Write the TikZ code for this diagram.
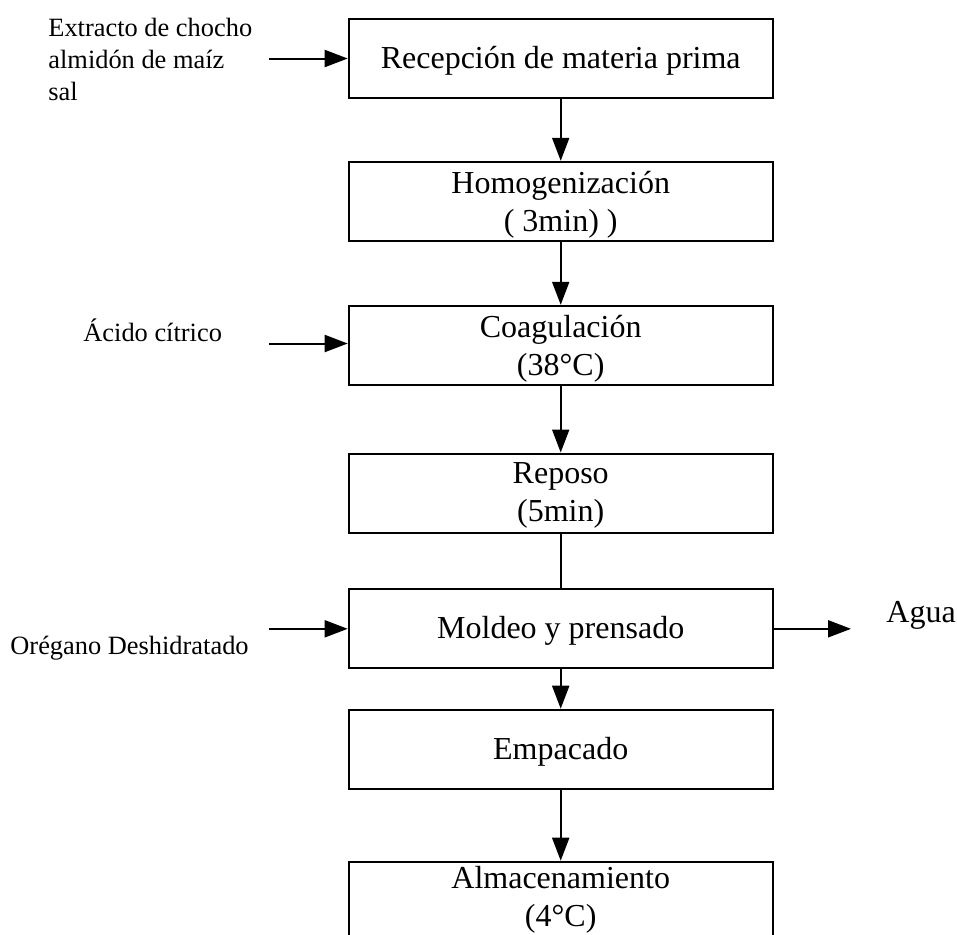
\documentclass[tikz,border=0pt]{standalone}
\usepackage{fontspec}
\setmainfont{Liberation Serif}
\usetikzlibrary{arrows.meta}
\tikzset{
  stepbox/.style={draw, line width=1pt, rectangle, minimum width=212pt, minimum height=39.5pt,
    inner sep=0pt, align=center, font=\fontsize{16pt}{19pt}\selectfont},
  oneline/.style={text height=12pt, text depth=2pt},
  twoline/.style={text height=#1, text depth=0pt},
  side/.style={inner sep=0pt, font=\fontsize{13.2pt}{16pt}\selectfont},
  big/.style={inner sep=0pt, font=\fontsize{16pt}{19pt}\selectfont},
  flow/.style={line width=1pt, -{Triangle[length=11.5pt, width=8.5pt]}},
  plain/.style={line width=1pt}
}
\begin{document}
\begin{tikzpicture}[x=0.5pt, y=-0.5pt]
\useasboundingbox (0,0) rectangle (957,934);
\clip (0,0) rectangle (957,934);
\node[stepbox, oneline] (b1) at (560.7,58.5) {Recepción de materia prima};
\node[stepbox, twoline=29.7pt] (b2) at (560.7,201.3) {Homogenización\\( 3min) )};
\node[stepbox, twoline=29.7pt] (b3) at (560.7,345.3) {Coagulación\\(38°C)};
\node[stepbox, twoline=28.9pt] (b4) at (560.7,493) {Reposo\\(5min)};
\node[stepbox, oneline] (b5) at (560.7,628.8) {Moldeo y prensado};
\node[stepbox, oneline] (b6) at (560.7,749.2) {Empacado};
\node[stepbox, text height=32.15pt, text depth=7.35pt, anchor=north] (b7) at (560.7,860.7) {Almacenamiento\\(4°C)};

\node[side, align=left, anchor=base west] (in1) at (48,100) {Extracto de chocho\\almidón de maíz\\sal};
\node[side, anchor=base west] (in2) at (83,341.7) {Ácido cítrico};
\node[side, anchor=base west] (in3) at (10,654) {Orégano Deshidratado};
\node[big, anchor=base west] (out1) at (886,622) {Agua};

\coordinate (s1) at (269,58.5);
\coordinate (s3) at (269,343.5);
\coordinate (s5) at (269,628.8);
\coordinate (e5) at (851,628.8);

\draw[flow] (s1) -- (s1 -| b1.west);
\draw[flow] (s3) -- (s3 -| b3.west);
\draw[flow] (s5) -- (b5.west);
\draw[flow] (b5.east) -- (e5);

\draw[flow] (b1.south) -- (b2.north);
\draw[flow] (b2.south) -- (b3.north);
\draw[flow] (b3.south) -- (b4.north);
\draw[plain] (b4.south) -- (b5.north);
\draw[flow] (b5.south) -- (b6.north);
\draw[flow] (b6.south) -- (b7.north);
\end{tikzpicture}
\end{document}
